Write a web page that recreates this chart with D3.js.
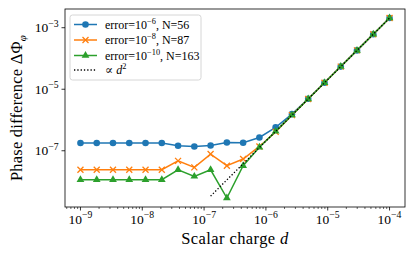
<!DOCTYPE html>
<html>
<head>
<meta charset="utf-8">
<script src="https://cdn.jsdelivr.net/npm/d3@7"></script>
<style>
  body { margin: 0; background: #fff; }
  text { font-family: "Liberation Serif", "DejaVu Serif", serif; fill: #000; }
</style>
</head>
<body>
<div id="chart"></div>
<script>
// scalar charge d (logspace from 1e-9 to 1e-4, 20 points)
const charges = [1e-9, 1.833e-9, 3.360e-9, 6.158e-9, 1.129e-8, 2.069e-8, 3.793e-8, 6.952e-8,
  1.274e-7, 2.336e-7, 4.281e-7, 7.848e-7, 1.438e-6, 2.637e-6, 4.833e-6, 8.859e-6,
  1.624e-5, 2.976e-5, 5.456e-5, 1e-4];

// phase difference for each tolerance
const err6 = [1.78e-7, 1.78e-7, 1.78e-7, 1.78e-7, 1.78e-7, 1.78e-7, 1.45e-7, 1.38e-7,
  1.49e-7, 1.86e-7, 1.82e-7, 2.7e-7, 5.8e-7, 1.55e-6, 4.9e-6, 1.63e-5,
  5.45e-5, 1.83e-4, 6.15e-4, 2.07e-3];
const err8 = [2.41e-8, 2.41e-8, 2.41e-8, 2.41e-8, 2.41e-8, 2.41e-8, 4.7e-8, 2.88e-8,
  7.8e-8, 3.26e-8, 5.37e-8, 1.38e-7, 4.1e-7, 1.44e-6, 4.83e-6, 1.62e-5,
  5.45e-5, 1.83e-4, 6.15e-4, 2.07e-3];
const err10 = [1.15e-8, 1.15e-8, 1.15e-8, 1.15e-8, 1.15e-8, 1.15e-8, 2.41e-8, 1.47e-8,
  2.41e-8, 2.91e-9, 3.26e-8, 1.3e-7, 4.27e-7, 1.44e-6, 4.82e-6, 1.62e-5,
  5.45e-5, 1.83e-4, 6.15e-4, 2.07e-3];

// reference d^2 line, drawn from the 9th charge onwards
const refCharges = charges.slice(8);
const refValues = [3.35e-9, 1.127e-8, 3.785e-8, 1.272e-7, 4.27e-7, 1.436e-6, 4.824e-6,
  1.621e-5, 5.446e-5, 1.829e-4, 6.147e-4, 2.065e-3];

const xTicks = [1e-9, 1e-8, 1e-7, 1e-6, 1e-5, 1e-4];
const yTicks = [1e-7, 1e-5, 1e-3];

const series = [
  { label: ["error=10", "−6", ", N=56"], values: err6, color: "#1f77b4", marker: "circle" },
  { label: ["error=10", "−8", ", N=87"], values: err8, color: "#ff7f0e", marker: "x" },
  { label: ["error=10", "−10", ", N=163"], values: err10, color: "#2ca02c", marker: "triangle" }
];

const W = 415, H = 257;
const margin = { top: 9, right: 10, bottom: 50, left: 65 };
const width = W - margin.left - margin.right;
const height = H - margin.top - margin.bottom;

const svg = d3.select("#chart").append("svg")
  .attr("width", W)
  .attr("height", H);

const g = svg.append("g")
  .attr("transform", `translate(${margin.left},${margin.top})`);

// log domains with 5% padding like matplotlib
function padLog(lo, hi) {
  const a = Math.log10(lo), b = Math.log10(hi), p = (b - a) * 0.05;
  return [Math.pow(10, a - p), Math.pow(10, b + p)];
}
const allY = err6.concat(err8, err10);
const x = d3.scaleLog().domain(padLog(d3.min(charges), d3.max(charges))).range([0, width]);
const y = d3.scaleLog().domain(padLog(d3.min(allY), d3.max(allY))).range([height, 0]);

// superscript label helper
function powLabel(sel, base, exp, size) {
  sel.append("tspan").text(base);
  sel.append("tspan").attr("dy", -size * 0.42).attr("font-size", size * 0.72).text(exp);
}

// x axis: major + minor ticks
const minorX = [];
for (let e = -10; e <= -4; e++) for (let m = 2; m <= 9; m++) {
  const v = m * Math.pow(10, e);
  if (v > x.domain()[0] && v < x.domain()[1]) minorX.push(v);
}
const tickSize = 13.5;
const xAxis = g.append("g").attr("transform", `translate(0,${height})`);
xAxis.selectAll(".minor").data(minorX).enter().append("line")
  .attr("x1", d => x(d)).attr("x2", d => x(d))
  .attr("y1", 0).attr("y2", 2)
  .attr("stroke", "#000").attr("stroke-width", 0.6);
xAxis.selectAll(".major").data(xTicks).enter().append("line")
  .attr("x1", d => x(d)).attr("x2", d => x(d))
  .attr("y1", 0).attr("y2", 3.5)
  .attr("stroke", "#000").attr("stroke-width", 0.8);
xAxis.selectAll(".lbl").data(xTicks).enter().append("text")
  .attr("x", d => x(d)).attr("y", 16.5)
  .attr("text-anchor", "middle").attr("font-size", tickSize)
  .each(function (d) { powLabel(d3.select(this), "10", "−" + (-Math.round(Math.log10(d))), tickSize); });

// y axis: major only
const yAxis = g.append("g");
yAxis.selectAll(".major").data(yTicks).enter().append("line")
  .attr("x1", -3.5).attr("x2", 0)
  .attr("y1", d => y(d)).attr("y2", d => y(d))
  .attr("stroke", "#000").attr("stroke-width", 0.8);
yAxis.selectAll(".lbl").data(yTicks).enter().append("text")
  .attr("x", -6.5).attr("y", d => y(d) + 4.5)
  .attr("text-anchor", "end").attr("font-size", tickSize)
  .each(function (d) { powLabel(d3.select(this), "10", "−" + (-Math.round(Math.log10(d))), tickSize); });

// axis titles
const xt = svg.append("text")
  .attr("x", margin.left + width / 2).attr("y", 244)
  .attr("text-anchor", "middle").attr("font-size", 16.5)
  .attr("letter-spacing", 0.4);
xt.append("tspan").text("Scalar charge ");
xt.append("tspan").attr("font-style", "italic").text("d");

const yt = svg.append("text")
  .attr("transform", `translate(22,${margin.top + height / 2}) rotate(-90)`)
  .attr("text-anchor", "middle").attr("font-size", 16.5)
  .attr("letter-spacing", 0.2);
yt.append("tspan").text("Phase difference ΔΦ");
yt.append("tspan").attr("font-style", "italic").attr("font-size", 11).attr("dy", 3.5).text("φ");

// marker drawing
function drawMarker(sel, type, color) {
  if (type === "circle") {
    sel.append("circle").attr("r", 3.3).attr("fill", color);
  } else if (type === "triangle") {
    sel.append("path").attr("d", d3.symbol(d3.symbolTriangle, 26)()).attr("fill", color);
  } else {
    sel.append("path").attr("d", "M-3,-3L3,3M-3,3L3,-3")
      .attr("stroke", color).attr("stroke-width", 1.3).attr("fill", "none");
  }
}

const line = d3.line().x(d => x(d[0])).y(d => y(d[1]));

series.forEach(s => {
  const pts = charges.map((c, i) => [c, s.values[i]]);
  g.append("path").datum(pts)
    .attr("d", line)
    .attr("fill", "none").attr("stroke", s.color).attr("stroke-width", 1.5);
  g.selectAll(null).data(pts).enter().append("g")
    .attr("transform", d => `translate(${x(d[0])},${y(d[1])})`)
    .each(function () { drawMarker(d3.select(this), s.marker, s.color); });
});

g.append("path").datum(refCharges.map((c, i) => [c, refValues[i]]))
  .attr("d", line)
  .attr("fill", "none").attr("stroke", "#000").attr("stroke-width", 1.3)
  .attr("stroke-dasharray", "1.3,2");

// frame
g.append("rect").attr("width", width).attr("height", height)
  .attr("fill", "none").attr("stroke", "#000").attr("stroke-width", 0.8);

// legend
const legSize = 12;
const leg = svg.append("g").attr("transform", "translate(70,15)");
leg.append("rect").attr("width", 131).attr("height", 65).attr("rx", 2.5)
  .attr("fill", "#fff").attr("fill-opacity", 0.8)
  .attr("stroke", "#ccc").attr("stroke-width", 0.8);
series.forEach((s, i) => {
  const row = leg.append("g").attr("transform", `translate(0,${9.5 + i * 15.5})`);
  row.append("line").attr("x1", 4).attr("x2", 27)
    .attr("stroke", s.color).attr("stroke-width", 1.5);
  drawMarker(row.append("g").attr("transform", "translate(15.5,0)"), s.marker, s.color);
  const t = row.append("text").attr("x", 35).attr("y", 4.2).attr("font-size", legSize);
  t.append("tspan").text(s.label[0]);
  t.append("tspan").attr("dy", -5).attr("font-size", 8.3).text(s.label[1]);
  t.append("tspan").attr("dy", 5).text(s.label[2]);
});
const refRow = leg.append("g").attr("transform", `translate(0,${9.5 + 3 * 15.5 - 1})`);
refRow.append("line").attr("x1", 4).attr("x2", 27)
  .attr("stroke", "#000").attr("stroke-width", 1.3).attr("stroke-dasharray", "1.3,2");
const rt = refRow.append("text").attr("x", 35).attr("y", 4.2).attr("font-size", legSize);
rt.append("tspan").text("∝ ");
rt.append("tspan").attr("font-style", "italic").text("d");
rt.append("tspan").attr("dy", -5).attr("font-size", 8.3).text("2");
</script>
</body>
</html>
